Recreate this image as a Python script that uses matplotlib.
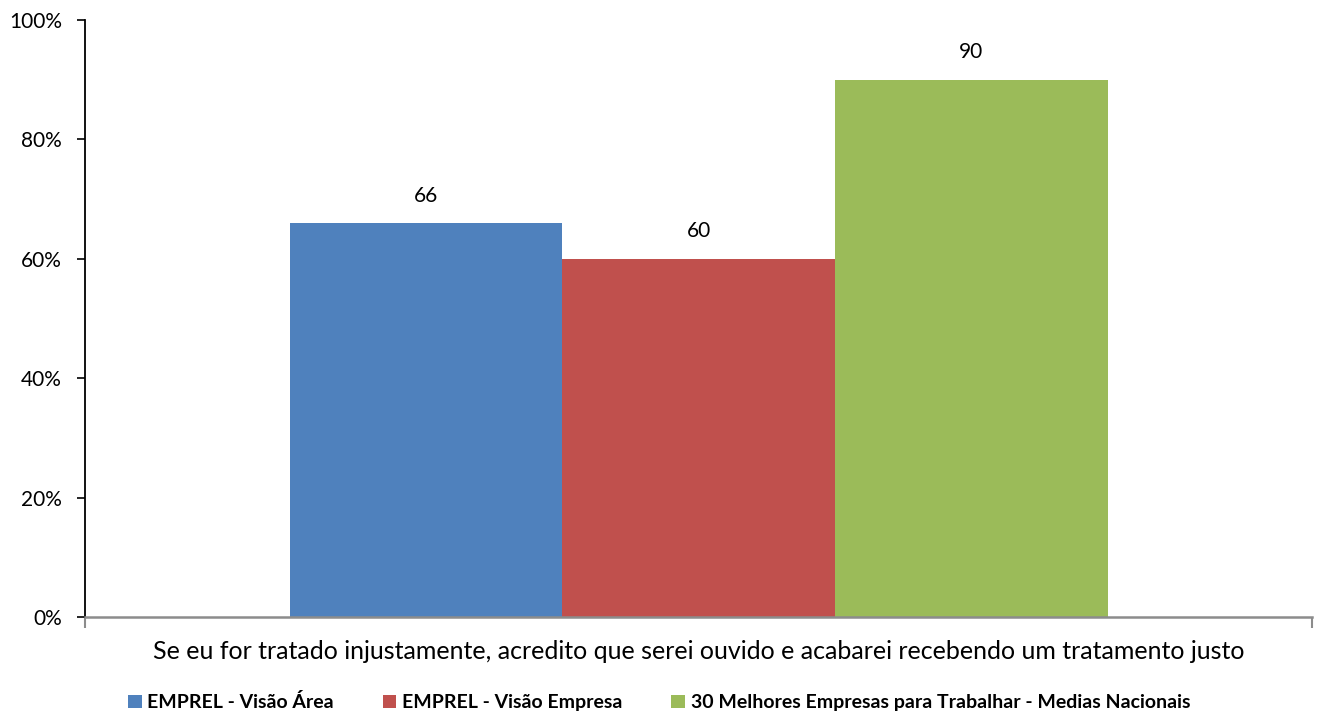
import matplotlib
matplotlib.use("Agg")
from matplotlib import pyplot as plt
from matplotlib.patches import Patch
from matplotlib.ticker import FuncFormatter

plt.rcParams['font.family'] = ['Lato', 'DejaVu Sans']

category = "Se eu for tratado injustamente, acredito que serei ouvido e acabarei recebendo um tratamento justo"
series = ["EMPREL - Visão Área", "EMPREL - Visão Empresa",
          "30 Melhores Empresas para Trabalhar - Medias Nacionais"]
values = [66, 60, 90]
colors = ["#4F81BD", "#C0504D", "#9BBB59"]
y_ticks = [0, 20, 40, 60, 80, 100]

fig = plt.figure(figsize=(13.18, 7.13), dpi=100)
ax = fig.add_axes([0.0645, 0.1346, 0.931, 0.8374])

width = 2 / 3 / len(values)
offsets = [(i - (len(values) - 1) / 2) * width for i in range(len(values))]
for off, v, c in zip(offsets, values, colors):
    ax.bar(off, v, width=width, color=c, edgecolor='none')
    ax.text(off, v + 2.9, f"{v}", ha='center', va='bottom', fontsize=15)

ax.set_xlim(-0.5, 0.5)
ax.set_ylim(0, 100)
ax.set_yticks(y_ticks)
ax.yaxis.set_major_formatter(FuncFormatter(lambda v, p: f"{v:.0f}%"))
ax.tick_params(axis='y', labelsize=15, length=5.5, width=1.2, direction='out', pad=11)
ax.set_xticks([-0.5, 0.5])
ax.set_xticklabels(["", ""])
ax.tick_params(axis='x', length=8, width=1.5, color='#8c8c8c', direction='out')

for s in ['top', 'right']:
    ax.spines[s].set_visible(False)
ax.spines['left'].set_linewidth(1.3)
ax.spines['left'].set_color('black')
ax.spines['bottom'].set_linewidth(1.8)
ax.spines['bottom'].set_color('#8c8c8c')

ax.text(0, -3.9, category, ha='center', va='top', fontsize=18, transform=ax.transData)

handles = [Patch(facecolor=c, edgecolor='none', label=s) for s, c in zip(series, colors)]
fig.legend(handles=handles, loc='lower center', bbox_to_anchor=(0.5, -0.022), ncol=3,
           frameon=False, prop={'weight': 'bold', 'size': 14},
           handlelength=0.7, handleheight=0.7, handletextpad=0.3, columnspacing=2.5)

fig.savefig("out.png", dpi=100)
